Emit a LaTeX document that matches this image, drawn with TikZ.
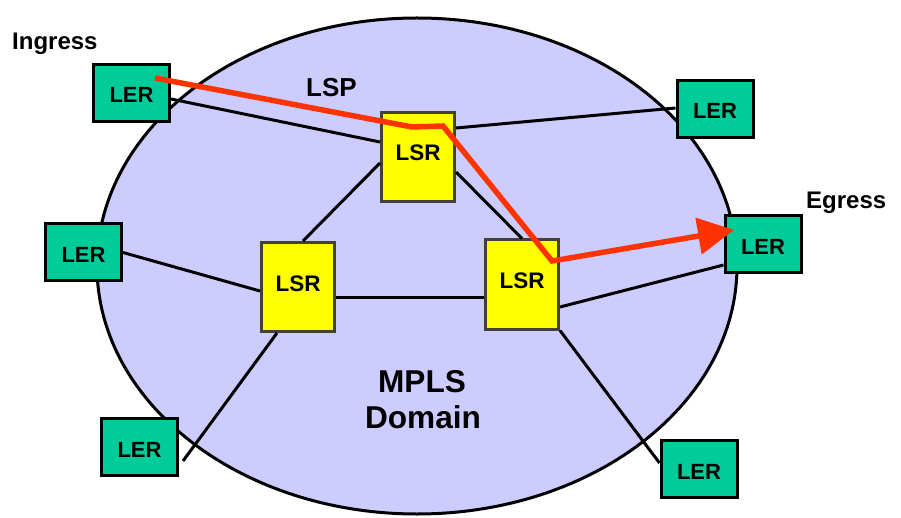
\documentclass[tikz,border=0pt]{standalone}
\usepackage{fontspec}
\setmainfont{Liberation Sans}
\usetikzlibrary{arrows.meta,calc}
\definecolor{lergreen}{HTML}{00CC99}
\definecolor{lsryellow}{HTML}{FFFF00}
\definecolor{domainfill}{HTML}{CCCCFF}
\definecolor{lspred}{HTML}{FF3300}
\begin{document}
\begin{tikzpicture}[x=1pt,y=-1pt,
  lerbox/.style={draw=black, line width=3pt, fill=lergreen, minimum width=76pt, minimum height=57pt, inner sep=0pt, font=\fontsize{22}{24}\selectfont\bfseries, text height=20pt, text depth=0pt},
  lsrbox/.style={draw=black!85!yellow, line width=3pt, fill=lsryellow, minimum width=73pt, minimum height=89pt, inner sep=0pt, font=\fontsize{22.5}{24}\selectfont\bfseries, text height=16pt, text depth=8pt},
  link/.style={line width=3pt, draw=black},
  lsp/.style={line width=5.5pt, draw=lspred, -{Triangle[length=36pt,width=36pt]}},
  lbl/.style={font=\fontsize{24}{28}\selectfont\bfseries, inner sep=0pt, anchor=base west}]
\useasboundingbox (0,0) rectangle (901,518);
\draw[fill=domainfill, line width=3pt] (417,266) ellipse [x radius=320pt, y radius=248pt];

\node[lerbox] (ing) at (131.5,93) {LER};
\node[lerbox] (lerTR) at (715,109) {LER};
\node[lerbox] (lerE) at (763,244.5) {LER};
\node[lerbox] (lerL) at (83.5,252.5) {LER};
\node[lerbox] (lerBL) at (139.5,447) {LER};
\node[lerbox] (lerBR) at (699,469) {LER};

\node[lsrbox] (lsrT) at (418,157) {LSR};
\node[lsrbox] (lsrL) at (298,287) {LSR};
\node[lsrbox] (lsrR) at (522,284.5) {LSR};

\draw[link] ($(ing.east)+(0,6)$) -- ($(lsrT.west)+(0,-15)$);
\draw[link] ($(lsrT.east)+(0,-29)$) -- ($(lerTR.west)+(0,-1)$);
\draw[link] ($(lsrT.west)+(0,6)$) -- ($(lsrL.north)+(5,0)$);
\draw[link] ($(lsrT.east)+(0,15)$) -- (lsrR.north);
\draw[link] (lerL.east) -- ($(lsrL.west)+(0,4)$);
\draw[link] ($(lsrL.east)+(0,10)$) -- ($(lsrR.west)+(0,12.5)$);
\draw[link] ($(lsrL.south)+(-21,0)$) -- ($(lerBL.east)+(4,14)$);
\draw[link] ($(lsrR.east)+(0,22.5)$) -- ($(lerE.west)+(0,20.5)$);
\draw[link] (lsrR.south east) -- ($(lerBR.west)+(0,-6)$);

\node[lbl] (ingress) at (12,50) {Ingress};
\node[lbl, font=\fontsize{26}{30}\selectfont\bfseries] (lsplbl) at (306,97) {LSP};
\node[lbl] (egress) at (806,209) {Egress};
\node[font=\fontsize{31.6}{36}\selectfont\bfseries, inner sep=0pt, anchor=base] (mpls) at (422,392) {MPLS};
\node[font=\fontsize{31.6}{36}\selectfont\bfseries, inner sep=0pt, anchor=base] (dom) at (423,428) {Domain};

\draw[lsp] ($(ing)+(23.5,-15)$) -- ($(lsrT)+(-6,-30)$) -- ($(lsrT)+(25,-31)$) -- ($(lsrR)+(30,-23.5)$) -- ($(lerE)+(-29,-14.5)$);
\end{tikzpicture}
\end{document}
